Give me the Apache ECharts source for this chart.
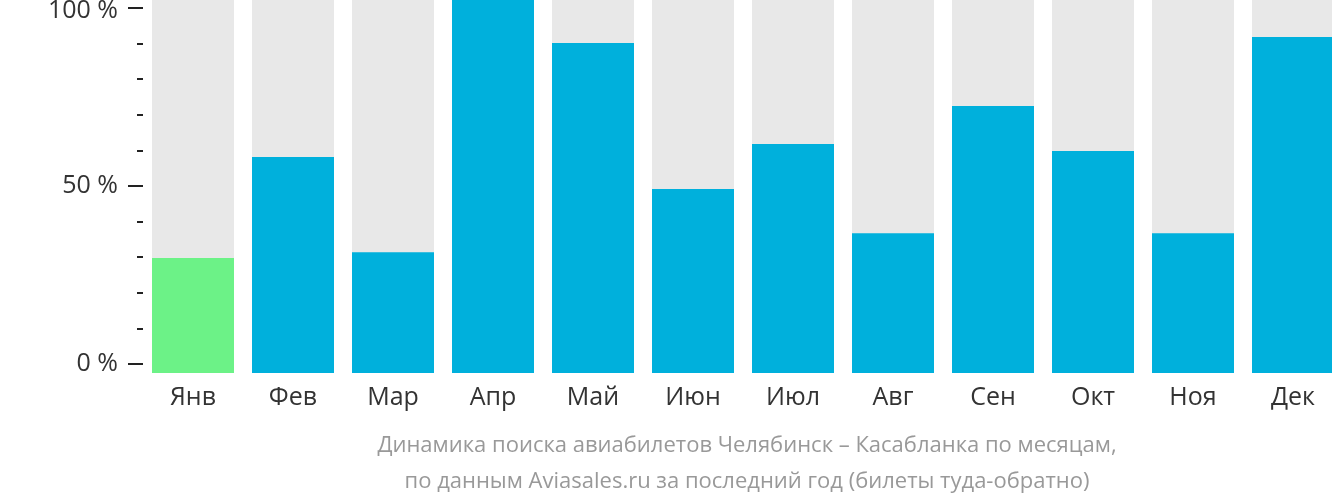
<!DOCTYPE html>
<html>
<head>
<meta charset="utf-8">
<script src="https://cdn.jsdelivr.net/npm/echarts@6/dist/echarts.min.js"></script>
<style>
html,body{margin:0;padding:0;background:#fff;}
#chart{width:1332px;height:502px;}
</style>
</head>
<body>
<div id="chart"></div>
<script>
const categories = ['Янв','Фев','Мар','Апр','Май','Июн','Июл','Авг','Сен','Окт','Ноя','Дек'];
const values = [30.8, 57.9, 32.4, 100, 88.5, 49.3, 61.4, 37.5, 71.6, 59.5, 37.5, 90.1];
const highlightIndex = 0;
const yTicks = [0, 50, 100];
const titleLines = ['Динамика поиска авиабилетов Челябинск – Касабланка по месяцам,', 'по данным Aviasales.ru за последний год (билеты туда-обратно)'];

const FONT = '"Open Sans", "Noto Sans", sans-serif';
const chart = echarts.init(document.getElementById('chart'), null, {renderer: 'canvas'});
chart.setOption({
  animation: false,
  textStyle: {fontFamily: FONT},
  title: {
    text: titleLines.join('\n'),
    left: 742, top: 423, textAlign: 'center',
    textStyle: {fontFamily: FONT, fontSize: 22, fontWeight: 'normal', color: '#999', lineHeight: 36}
  },
  grid: [
    {left: 143, top: 0, width: 1200, height: 373, outerBoundsMode: 'none', containLabel: false},
    {left: 143, top: 8, width: 1, height: 356, outerBoundsMode: 'none', containLabel: false}
  ],
  xAxis: [
    {type: 'category', gridIndex: 0, data: categories,
     axisLine: {show: false}, axisTick: {show: false},
     axisLabel: {fontFamily: FONT, fontSize: 25, color: '#333', margin: 12}},
    {type: 'value', gridIndex: 1, show: false}
  ],
  yAxis: [
    {type: 'value', gridIndex: 0, min: 0, max: 100, show: false},
    {type: 'value', gridIndex: 1, min: yTicks[0], max: yTicks[yTicks.length-1], interval: 50,
     axisLine: {show: false},
     splitLine: {show: false},
     axisTick: {show: true, length: 15, lineStyle: {color: '#222', width: 2}},
     minorTick: {show: true, splitNumber: 5, length: 6, lineStyle: {color: '#222', width: 2}},
     axisLabel: {fontFamily: FONT, fontSize: 25, color: '#333', margin: 25,
       formatter: v => v === yTicks[yTicks.length-1] ? '{top|' + v + ' %}' : v + ' %',
       rich: {top: {fontFamily: FONT, fontSize: 25, color: '#333', padding: [6, 0, 0, 0]}}}}
  ],
  series: [{
    type: 'bar', xAxisIndex: 0, yAxisIndex: 0,
    barWidth: 82,
    showBackground: true,
    backgroundStyle: {color: '#e8e8e8'},
    data: values.map((v, i) => ({value: v, itemStyle: {color: i === highlightIndex ? '#6cf287' : '#00b0dc'}}))
  }]
});
</script>
</body>
</html>
